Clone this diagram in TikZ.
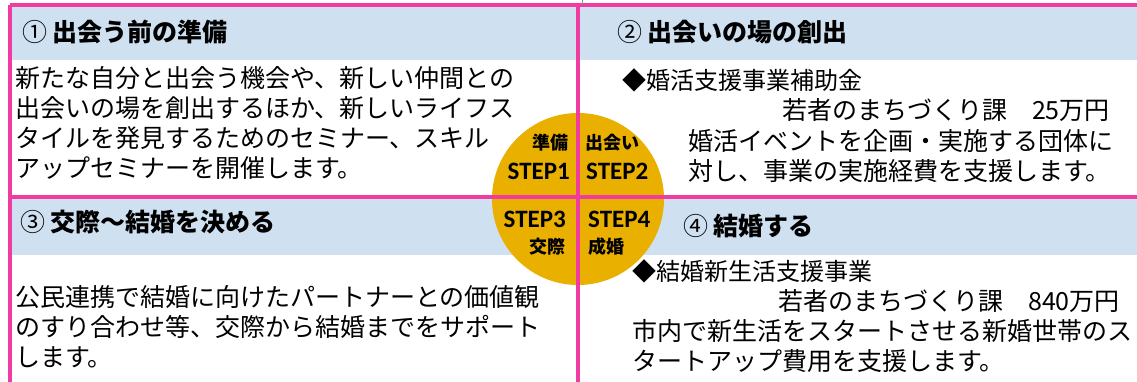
\documentclass[tikz,border=0pt]{standalone}
\usepackage{fontspec}
\setmainfont{Noto Sans CJK JP}
\newfontfamily\latinb{Carlito}
\definecolor{pinkline}{RGB}{240,60,160}
\definecolor{hdr}{RGB}{207,224,241}
\definecolor{gold}{RGB}{234,176,0}
\definecolor{greenline}{RGB}{110,170,80}
\newcommand{\cnum}[1]{{\mdseries #1}}
\begin{document}
\begin{tikzpicture}[x=1pt,y=-1pt,
  body/.style={anchor=west,inner sep=0pt,font=\fontsize{25}{30}\selectfont},
  sub/.style={anchor=west,inner sep=0pt,font=\fontsize{24}{28}\selectfont},
  head/.style={anchor=west,inner sep=0pt,font=\fontsize{25}{30}\selectfont\bfseries},
  lbl/.style={inner sep=0pt,font=\fontsize{18}{20}\selectfont\bfseries},
  stp/.style={inner sep=0pt,font=\latinb\bfseries\fontsize{25}{27}\selectfont},
  band/.style={fill=hdr,draw=none},
  frame/.style={draw=pinkline,line width=3.5pt}]
\useasboundingbox (0,0) rectangle (1137,382);
\fill[white] (0,0) rectangle (1137,382);
% header bands
\fill[band] (10,6) rectangle (1137,60);
\fill[band] (10,199) rectangle (1137,255);
% central disc
\node[circle,fill=gold,minimum size=172pt,inner sep=0pt] (hub) at (578,199) {};
% frames
\coordinate (tl) at (10,5);
\coordinate (tr) at (1137,5);
\coordinate (ml) at (10,197);
\coordinate (mr) at (1137,197);
\coordinate (bl) at (10,382);
\coordinate (tc) at (578,5);
\coordinate (bc) at (578,382);
\draw[frame] (tl) -- (tr);
\draw[frame] (ml) -- (mr);
\draw[frame] (tl) -- (bl);
\draw[frame] (tc) -- (bc);
\coordinate (g1) at (582,0);
\coordinate (g2) at (582,4);
\draw[greenline,line width=1pt] (g1) -- (g2);
% box 1
\node[head] (h1) at (22,32) {\cnum{①} 出会う前の準備};
\node[body] (b1a) at (15,78) {新たな自分と出会う機会や、新しい仲間との};
\node[body] (b1b) at (15,108) {出会いの場を創出するほか、新しいライフス};
\node[body] (b1c) at (15,138) {タイルを発見するためのセミナー、スキル};
\node[body] (b1d) at (15,168) {アップセミナーを開催します。};
% box 2
\node[head] (h2) at (617,32) {\cnum{②} 出会いの場の創出};
\node[sub] (s2) at (622,80) {◆婚活支援事業補助金};
\node[body,anchor=east] (d2) at (1110,110) {若者のまちづくり課　25万円};
\node[body] (b2a) at (688,141) {婚活イベントを企画・実施する団体に};
\node[body] (b2b) at (688,171) {対し、事業の実施経費を支援します。};
% box 3
\node[head] (h3) at (20,222) {\cnum{③} 交際～結婚を決める};
\node[body] (b3a) at (15,297) {公民連携で結婚に向けたパートナーとの価値観};
\node[body] (b3b) at (15,327) {のすり合わせ等、交際から結婚までをサポート};
\node[body] (b3c) at (15,357) {します。};
% box 4
\node[head] (h4) at (683,226) {\cnum{④} 結婚する};
\node[sub] (s4) at (632,271) {◆結婚新生活支援事業};
\node[body,anchor=east] (d4) at (1120,301) {若者のまちづくり課　840万円};
\node[body] (b4a) at (632,331) {市内で新生活をスタートさせる新婚世帯のス};
\node[body] (b4b) at (632,361) {タートアップ費用を支援します。};
% disc labels
\node[lbl,anchor=east] (q1a) at (569,143) {準備};
\node[stp,anchor=east] (q1b) at (570,171) {STEP1};
\node[lbl,anchor=west] (q2a) at (585,143) {出会い};
\node[stp,anchor=west] (q2b) at (586,171) {STEP2};
\node[stp,anchor=east] (q3a) at (566,219) {STEP3};
\node[lbl,anchor=east] (q3b) at (566,247) {交際};
\node[stp,anchor=west] (q4a) at (588,219) {STEP4};
\node[lbl,anchor=west] (q4b) at (588,247) {成婚};
\end{tikzpicture}
\end{document}
